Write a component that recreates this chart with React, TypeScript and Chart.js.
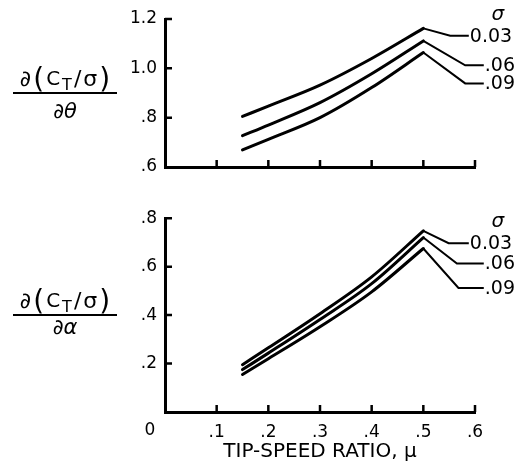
import { useEffect, useRef } from 'react'
import { Chart, registerables } from 'chart.js'

Chart.register(...registerables)

const FONT = '"DejaVu Sans", sans-serif'
Chart.defaults.font.family = FONT
Chart.defaults.color = '#000'

const MU = [0.15, 0.2, 0.3, 0.4, 0.5]
const X_TICKS = [0, 0.1, 0.2, 0.3, 0.4, 0.5, 0.6]
const SIGMA_LABELS = ['0.03', '.06', '.09']

// top panel: d(CT/sigma)/d(theta)
const THETA_003 = [0.805, 0.847, 0.932, 1.04, 1.162]
const THETA_006 = [0.727, 0.77, 0.861, 0.978, 1.111]
const THETA_009 = [0.669, 0.712, 0.8, 0.922, 1.064]
const THETA_BEND_MU = [0.552, 0.581, 0.581]
const THETA_BEND_Y = [1.132, 1.012, 0.939]
const THETA_END_MU = [0.588, 0.617, 0.617]
const THETA_TICKS = [0.6, 0.8, 1.0, 1.2]

// bottom panel: d(CT/sigma)/d(alpha)
const ALPHA_003 = [0.195, 0.265, 0.406, 0.558, 0.748]
const ALPHA_006 = [0.175, 0.243, 0.382, 0.53, 0.72]
const ALPHA_009 = [0.155, 0.22, 0.352, 0.496, 0.675]
const ALPHA_BEND_MU = [0.549, 0.565, 0.568]
const ALPHA_BEND_Y = [0.697, 0.613, 0.512]
const ALPHA_END_MU = [0.588, 0.617, 0.617]
const ALPHA_TICKS = [0, 0.2, 0.4, 0.6, 0.8]

const fmt = (v: number) => (v >= 1 ? v.toFixed(1) : v.toFixed(1).replace(/^0/, ''))

type Panel = {
  curves: number[][]
  bendMu: number[]
  bendY: number[]
  endMu: number[]
  yTicks: number[]
  padTop: number
  xAxisHeight: number
  bottom: boolean
  denom: string
  denomGap: number
}

function drawFraction(ctx: CanvasRenderingContext2D, cx: number, barY: number, denom: string, gap: number) {
  const pieces: [string, string, number][] = [
    ['∂', `22px ${FONT}`, 0],
    ['(', `28px ${FONT}`, 2],
    ['C', `20px ${FONT}`, -1],
    ['T', `16px ${FONT}`, 4],
    ['/', `22px ${FONT}`, 0],
    ['σ', `22px ${FONT}`, 0],
    [')', `28px ${FONT}`, 2],
  ]
  const gapX = 2
  let total = 0
  for (const [t, f] of pieces) {
    ctx.font = f
    total += ctx.measureText(t).width + gapX
  }
  total -= gapX
  let x = cx - total / 2
  ctx.fillStyle = '#000'
  ctx.textAlign = 'left'
  ctx.textBaseline = 'alphabetic'
  for (const [t, f, dy] of pieces) {
    ctx.font = f
    ctx.fillText(t, x, barY - 7 + dy)
    x += ctx.measureText(t).width + gapX
  }
  ctx.strokeStyle = '#000'
  ctx.lineWidth = 2
  ctx.beginPath()
  ctx.moveTo(cx - 52, barY)
  ctx.lineTo(cx + 52, barY)
  ctx.stroke()
  ctx.font = `italic 21px ${FONT}`
  ctx.textAlign = 'center'
  ctx.fillText(denom, cx, barY + gap)
}

function PanelChart({ p, height }: { p: Panel; height: number }) {
  const canvasRef = useRef<HTMLCanvasElement>(null)

  useEffect(() => {
    if (!canvasRef.current) return
    const yMin = p.yTicks[0]
    const yMax = p.yTicks[p.yTicks.length - 1]

    const decor = {
      id: 'decor',
      afterDraw(chart: Chart) {
        const { ctx, chartArea: a } = chart
        const x = chart.scales.x
        const y = chart.scales.y
        ctx.save()
        // inward tick marks
        ctx.strokeStyle = '#000'
        ctx.lineWidth = 2.5
        ctx.beginPath()
        for (const v of X_TICKS) {
          if (v <= 0) continue
          const px = x.getPixelForValue(v)
          ctx.moveTo(px, a.bottom)
          ctx.lineTo(px, a.bottom - 7)
        }
        for (const v of p.yTicks) {
          if (v <= yMin) continue
          const py = y.getPixelForValue(v)
          ctx.moveTo(a.left, py)
          ctx.lineTo(a.left + 7, py)
        }
        ctx.stroke()
        // curve labels
        ctx.fillStyle = '#000'
        ctx.textAlign = 'left'
        ctx.textBaseline = 'middle'
        ctx.font = `19px ${FONT}`
        SIGMA_LABELS.forEach((s, i) => {
          ctx.fillText(s, x.getPixelForValue(p.endMu[i]) + 1, y.getPixelForValue(p.bendY[i]) + 1)
        })
        ctx.font = `italic 20px ${FONT}`
        ctx.textAlign = 'center'
        ctx.fillText('σ', x.getPixelForValue(p.endMu[1]) + 14, y.getPixelForValue(p.bendY[0]) - 21)
        if (p.bottom) {
          ctx.font = `17px ${FONT}`
          ctx.fillText('0', x.getPixelForValue(0) - 15, a.bottom + 19)
        }
        drawFraction(ctx, a.left - 100, (a.top + a.bottom) / 2, p.denom, p.denomGap)
        ctx.restore()
      },
    }

    const curves = p.curves.map((c) => ({
      data: MU.map((m, i) => ({ x: m, y: c[i] })),
      borderColor: '#000',
      borderWidth: 3,
      cubicInterpolationMode: 'monotone' as const,
      borderCapStyle: 'round' as const,
      borderJoinStyle: 'round' as const,
      pointRadius: 0,
    }))
    const leaders = p.curves.map((c, i) => ({
      data: [
        { x: MU[MU.length - 1], y: c[c.length - 1] },
        { x: p.bendMu[i], y: p.bendY[i] },
        { x: p.endMu[i], y: p.bendY[i] },
      ],
      borderColor: '#000',
      borderWidth: 2,
      tension: 0,
      clip: false as const,
      pointRadius: 0,
    }))

    const axisCommon = {
      grid: { display: true, drawOnChartArea: false, drawTicks: false },
      border: { display: true, color: '#000', width: 3 },
    }

    const chart = new Chart(canvasRef.current, {
      type: 'line',
      data: { datasets: [...curves, ...leaders] },
      options: {
        responsive: false,
        animation: false,
        layout: { padding: { top: p.padTop, right: 50, left: 0, bottom: 0 } },
        plugins: { legend: { display: false }, tooltip: { enabled: false } },
        scales: {
          x: {
            type: 'linear',
            min: 0,
            max: 0.6,
            ...axisCommon,
            afterBuildTicks: (s: any) => {
              s.ticks = X_TICKS.map((v) => ({ value: v }))
            },
            afterFit: (s: any) => {
              s.height = p.xAxisHeight
            },
            ticks: {
              display: p.bottom,
              padding: 10,
              autoSkip: false,
              maxRotation: 0,
              color: '#000',
              font: { size: 17 },
              callback: (v: any) => (Number(v) === 0 ? '' : fmt(Number(v))),
            },
            title: {
              display: p.bottom,
              text: 'TIP-SPEED RATIO, μ',
              color: '#000',
              font: { size: 20 },
              padding: { top: 0, bottom: 6 },
            },
          },
          y: {
            type: 'linear',
            min: yMin,
            max: yMax,
            ...axisCommon,
            afterBuildTicks: (s: any) => {
              s.ticks = p.yTicks.map((v) => ({ value: v }))
            },
            afterFit: (s: any) => {
              s.width = 165
            },
            ticks: {
              padding: 8,
              color: '#000',
              font: { size: 17 },
              callback: (v: any) => (Number(v) === 0 ? '' : fmt(Number(v))),
            },
          },
        },
      },
      plugins: [decor],
    })
    return () => chart.destroy()
  }, [p])

  return <canvas ref={canvasRef} width={525} height={height} style={{ display: 'block' }} />
}

const TOP: Panel = {
  curves: [THETA_003, THETA_006, THETA_009],
  bendMu: THETA_BEND_MU,
  bendY: THETA_BEND_Y,
  endMu: THETA_END_MU,
  yTicks: THETA_TICKS,
  padTop: 19,
  xAxisHeight: 33,
  bottom: false,
  denom: '∂θ',
  denomGap: 25,
}

const BOTTOM: Panel = {
  curves: [ALPHA_003, ALPHA_006, ALPHA_009],
  bendMu: ALPHA_BEND_MU,
  bendY: ALPHA_BEND_Y,
  endMu: ALPHA_END_MU,
  yTicks: ALPHA_TICKS,
  padTop: 17,
  xAxisHeight: 58,
  bottom: true,
  denom: '∂α',
  denomGap: 19,
}

export default function App() {
  return (
    <div style={{ position: 'fixed', left: 0, top: 0, width: 525, height: 470, background: '#fff' }}>
      <PanelChart p={TOP} height={200} />
      <PanelChart p={BOTTOM} height={270} />
    </div>
  )
}
